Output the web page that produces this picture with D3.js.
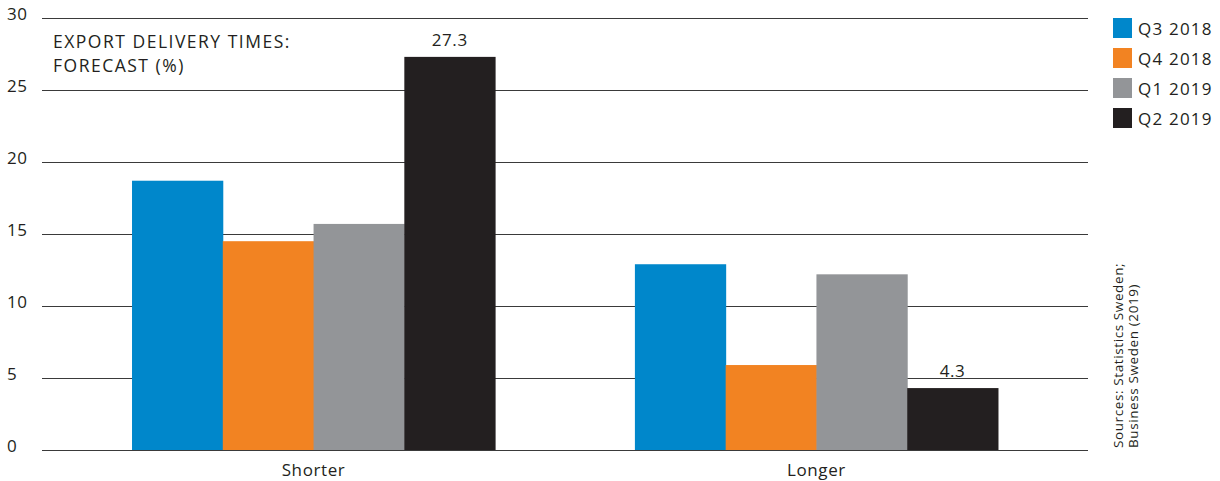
<!DOCTYPE html>
<html>
<head>
  <meta charset="UTF-8">
  <title></title>
  <style>
    body { margin: 0; background: #fff; }
    svg text { font-family: 'Open Sans', sans-serif; fill: #231f20; letter-spacing: 0.6px; }
    .tick text { font-size: 17px; }
  </style>
</head>
<body>
  <script src="https://d3js.org/d3.v7.min.js"></script>
  <script>
    var categories = ["Shorter", "Longer"];
    var seriesNames = ["Q3 2018", "Q4 2018", "Q1 2019", "Q2 2019"];
    var seriesColors = ["#0087cb", "#f28322", "#939598", "#231f20"];
    var q3_2018 = [18.7, 12.9];
    var q4_2018 = [14.5, 5.9];
    var q1_2019 = [15.7, 12.2];
    var q2_2019 = [27.3, 4.3];
    var yTicks = [0, 5, 10, 15, 20, 25, 30];

    var series = [q3_2018, q4_2018, q1_2019, q2_2019];

    var width = 1220, height = 481;
    var plotLeft = 42, plotRight = 1088, plotTop = 18, plotBottom = 450;

    var svg = d3.select("body").append("svg")
        .attr("width", width)
        .attr("height", height);

    var y = d3.scaleLinear().domain([0, 30]).range([plotBottom, plotTop]);
    var x0 = d3.scaleBand().domain(categories).range([plotLeft, plotRight])
        .paddingInner(0.278).paddingOuter(0.179);
    var x1 = d3.scaleBand().domain(seriesNames).range([0, x0.bandwidth()]);

    // gridlines + labels
    var yAxis = svg.append("g")
        .attr("transform", "translate(" + plotLeft + ",0)")
        .call(d3.axisLeft(y).tickValues(yTicks).tickSize(-(plotRight - plotLeft)).tickPadding(12));
    yAxis.select(".domain").remove();
    yAxis.selectAll(".tick line").attr("stroke", "#3a3a3a").attr("stroke-width", 1);
    yAxis.selectAll(".tick text").attr("text-anchor", "start").attr("x", -35).attr("dy", "0.1em");

    // bars
    var groups = svg.append("g").selectAll("g")
        .data(categories)
        .join("g")
        .attr("transform", function(d) { return "translate(" + x0(d) + ",0)"; });

    groups.selectAll("rect")
        .data(function(d, i) {
          return seriesNames.map(function(s, j) { return {s: s, v: series[j][i], c: seriesColors[j]}; });
        })
        .join("rect")
        .attr("x", function(d) { return x1(d.s); })
        .attr("width", x1.bandwidth() + 0.5)
        .attr("y", function(d) { return y(d.v); })
        .attr("height", function(d) { return plotBottom - y(d.v); })
        .attr("fill", function(d) { return d.c; });

    // value labels on the last series
    groups.append("text")
        .attr("x", x1("Q2 2019") + x1.bandwidth() / 2)
        .attr("y", function(d, i) { return y(q2_2019[i]) - 11; })
        .attr("text-anchor", "middle")
        .attr("font-size", "17px")
        .text(function(d, i) { return q2_2019[i]; });

    // category labels
    svg.append("g").selectAll("text")
        .data(categories)
        .join("text")
        .attr("x", function(d) { return x0(d) + x0.bandwidth() / 2; })
        .attr("y", 476)
        .attr("text-anchor", "middle")
        .attr("font-size", "17px")
        .text(function(d) { return d; });

    // title
    var title = svg.append("text").attr("font-size", "17.5px").style("letter-spacing", "1.5px");
    title.append("tspan").attr("x", 53).attr("y", 48).text("EXPORT DELIVERY TIMES:");
    title.append("tspan").attr("x", 53).attr("y", 72).text("FORECAST (%)");

    // legend
    var legend = svg.append("g").selectAll("g")
        .data(seriesNames)
        .join("g")
        .attr("transform", function(d, i) { return "translate(1113," + (18 + i * 30) + ")"; });
    legend.append("rect")
        .attr("width", 19).attr("height", 20)
        .attr("fill", function(d, i) { return seriesColors[i]; });
    legend.append("text")
        .attr("x", 25).attr("y", 17)
        .attr("font-size", "17px")
        .style("letter-spacing", "1.2px")
        .text(function(d) { return d; });

    // source
    var src = svg.append("text")
        .attr("transform", "translate(1123,448) rotate(-90)")
        .attr("font-size", "13.5px");
    src.append("tspan").attr("x", 0).attr("y", 0).text("Sources: Statistics Sweden;");
    src.append("tspan").attr("x", 0).attr("y", 15).text("Business Sweden (2019)");
  </script>
</body>
</html>
